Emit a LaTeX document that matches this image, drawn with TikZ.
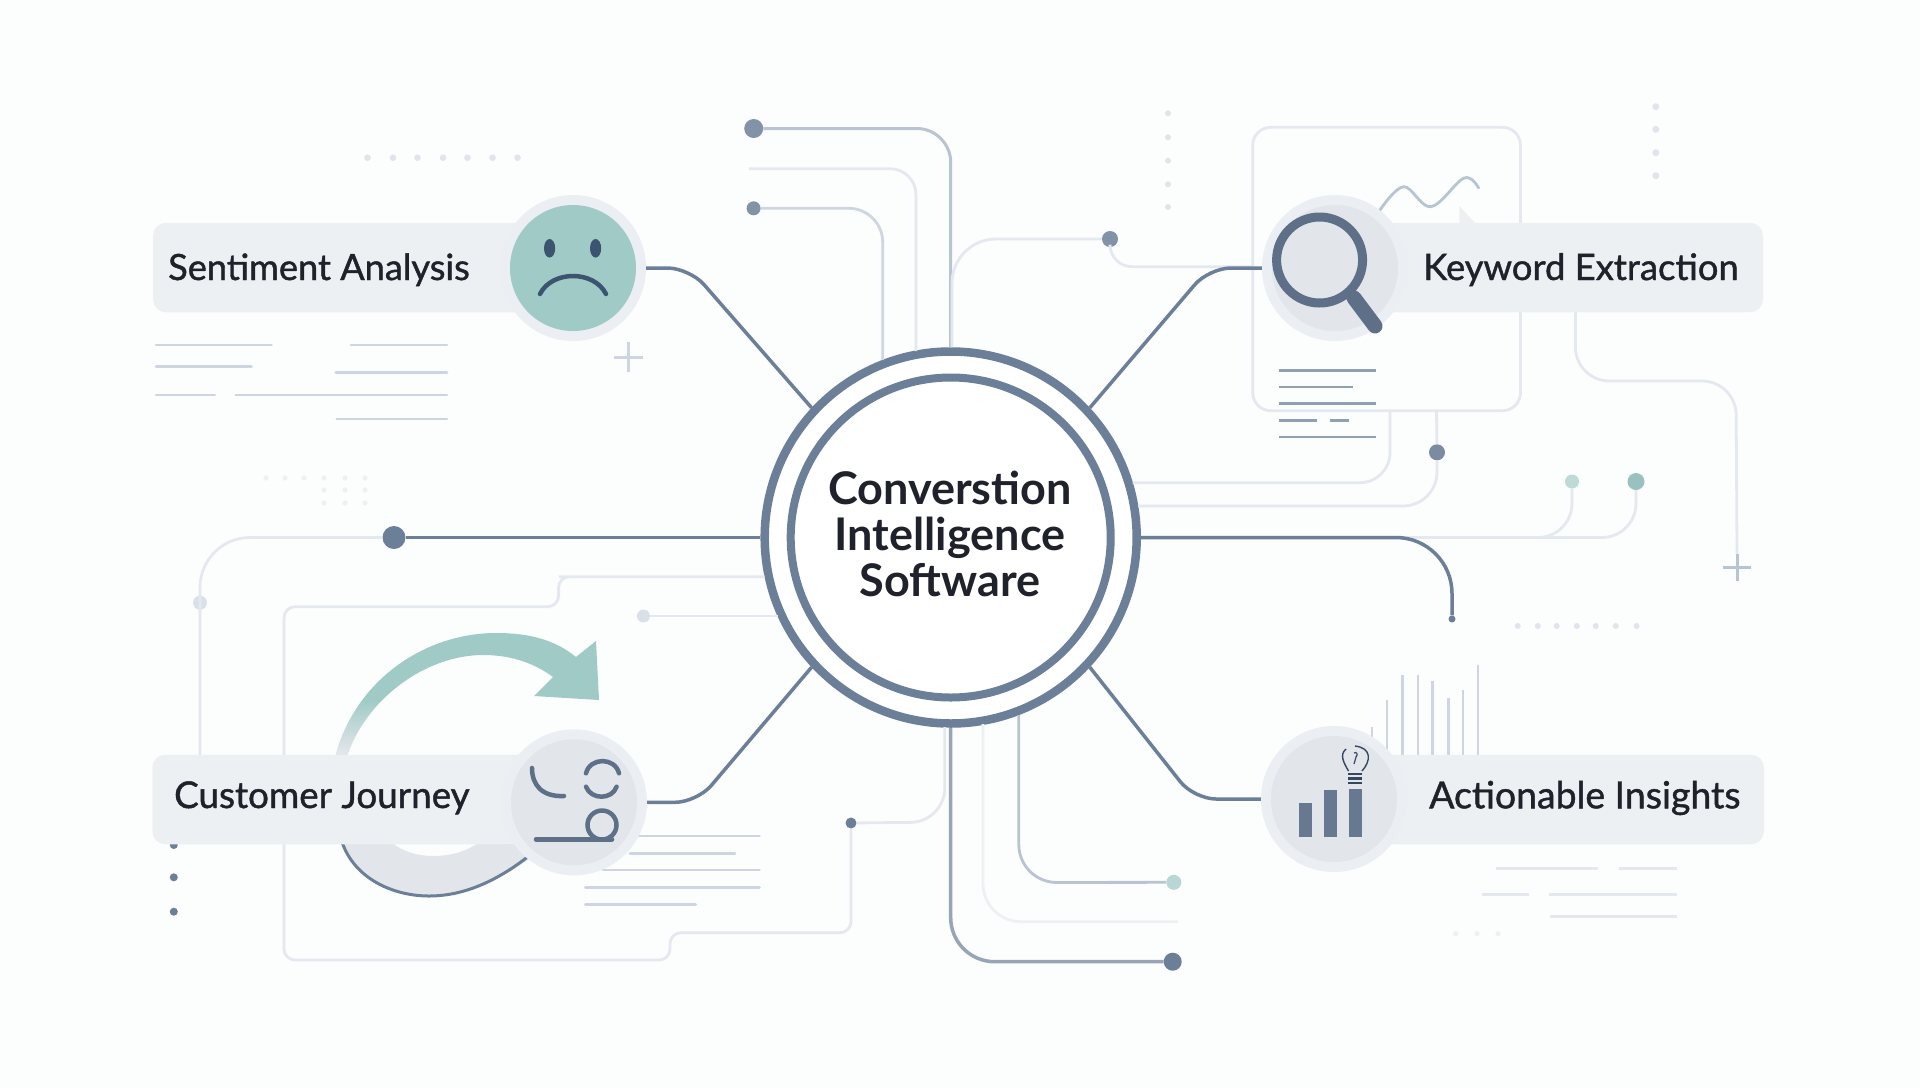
\documentclass[tikz,border=0pt]{standalone}
\usepackage{fontspec}
\setmainfont{Lato}
\newfontfamily\labfont{Lato}[FakeBold=1.2]
\usetikzlibrary{calc}
\definecolor{bgc}{HTML}{FCFDFD}
\definecolor{pillc}{HTML}{EDF0F3}
\definecolor{ringc}{HTML}{EBEEF2}
\definecolor{innerc}{HTML}{E2E5EA}
\definecolor{teal}{HTML}{A0CAC6}
\definecolor{slatec}{HTML}{6C7F98}
\definecolor{darkc}{HTML}{5D7088}
\definecolor{navyc}{HTML}{3D5470}
\definecolor{inkc}{HTML}{1F222B}
\definecolor{midc}{HTML}{B9C4D2}
\definecolor{lightc}{HTML}{E4E9EF}
\definecolor{palec}{HTML}{EEF1F4}
\definecolor{txtc}{HTML}{CDD6E0}
\definecolor{dotc}{HTML}{E0E5EC}
\pgfdeclareverticalshading{arcfade}{100bp}{color(0bp)=(innerc); color(27bp)=(innerc); color(48bp)=(teal); color(100bp)=(teal)}
\tikzset{
  spoke/.style={draw=slatec,line width=3.5pt,rounded corners=22pt},
  wire/.style={draw=lightc,line width=2.8pt,rounded corners=#1},
  wire/.default=26pt,
  dotn/.style 2 args={circle,fill=#2,inner sep=0pt,minimum size=#1,draw=none},
  pill/.style={rectangle,rounded corners=13pt,fill=pillc,inner sep=0pt,minimum height=89.5pt},
  halo/.style={circle,fill=ringc,inner sep=0pt,minimum size=146pt},
  disc/.style={circle,fill=innerc,inner sep=0pt,minimum size=126pt},
  lab/.style={anchor=base west,inner sep=0pt,text=inkc,font=\labfont\fontsize{#1}{42}\selectfont},
  tline/.style={draw=txtc,line width=2.8pt,line cap=round},
  glyph/.style={draw=darkc,line width=4.5pt,line cap=round},
}
\begin{document}
\begin{tikzpicture}[x=1pt,y=-1pt]
\useasboundingbox (0,0) rectangle (1920,1088);
\fill[bgc] (0,0) rectangle (1920,1088);

% hub
\node[circle,draw=slatec,line width=8.5pt,fill=white,minimum size=372pt,inner sep=0pt] (hub) at (950.7,537.5) {};
\coordinate (hA) at (1132.7,482.7);
\coordinate (hB) at (1138,506);
\coordinate (hC) at (764.7,576.7);
\coordinate (hD) at (777.7,616);

% small decorative dots
\foreach \x in {367.5,393,417.5,443,467.5,492.5,517.5} \fill[dotc] (\x,157.7) circle[radius=3.3pt];
\foreach \y in {113.3,137.3,160.7,184.3,207} \fill[dotc] (1168,\y) circle[radius=3pt];
\foreach \y in {106.7,129.3,152.7,175.7} \fill[dotc] (1655.8,\y) circle[radius=3.5pt];
\foreach \x in {266,285,304,324,345,365} \fill[palec] (\x,478) circle[radius=2.6pt];
\foreach \x in {324,345,365} {\fill[palec] (\x,490) circle[radius=2.6pt]; \fill[palec] (\x,503) circle[radius=2.6pt];}
\foreach \x in {1517.7,1537.8,1556.7,1576.8,1595.7,1615.8,1636.5} \fill[dotc] (\x,626) circle[radius=3pt];
\foreach \x in {1455.7,1477,1498} \fill[palec] (\x,933.7) circle[radius=2.6pt];
\foreach \y in {845,877.3,911.7} \fill[slatec] (173.8,\y) circle[radius=4pt];

% text-like lines
\foreach \a/\b/\y in {156/271.5/345,351/447/345,156/251.4/366.7,335.8/447/372.3,156/214.8/395,235.8/447/395,336.7/447/419}
  \draw[tline] (\a,\y) -- (\b,\y);
\foreach \a/\b/\y in {639/759.5/836,630/735/853.3,603/759.5/870,585.4/759.5/887.3,585.4/695.6/904.7}
  \draw[tline] (\a,\y) -- (\b,\y);
\foreach \a/\b/\y in {1496/1598/868.3,1618.7/1677/868.3,1481.5/1529/894.3,1548.7/1677/894.3,1550.4/1677/916.3}
  \draw[draw=lightc,line width=2.8pt] (\a,\y) -- (\b,\y);

% plus marks
\draw[draw=txtc,line width=3pt] (614.4,357) -- (643.4,357) (628.7,342) -- (628.7,372);
\draw[draw=midc,line width=3pt] (1722.6,567.7) -- (1751,567.7) (1737,554) -- (1737,581);

% dots on the wires
\node[dotn={19pt}{slatec!85!white}] (d1) at (753.7,128.5) {};
\node[dotn={14pt}{slatec!85!white}] (d2) at (753.6,208.3) {};
\node[dotn={16pt}{slatec!85!white}] (d3) at (1110,239) {};
\node[dotn={16pt}{slatec!90!white}] (d4) at (1437,452.3) {};
\node[dotn={14pt}{teal!70!white}] (d5) at (1572,481.5) {};
\node[dotn={17pt}{teal!90!darkc}] (d6) at (1636,481.5) {};
\node[dotn={7pt}{slatec}] (d7) at (1452,619) {};
\node[dotn={23pt}{slatec}] (d8) at (394,537.5) {};
\node[dotn={14pt}{dotc!85!midc}] (d9) at (200,602.7) {};
\node[dotn={13pt}{dotc!85!midc}] (d10) at (643.4,616) {};
\node[dotn={11pt}{slatec}] (d11) at (851,823) {};
\node[dotn={18pt}{slatec}] (d12) at (1172.7,961.7) {};
\node[dotn={15pt}{teal!75!white}] (d13) at (1173.8,882.3) {};
\coordinate (e1) at (749,168.7);
\coordinate (e2) at (1178,921.7);
\coordinate (k1) at (1737,554);

% document card and wave
\draw[draw=lightc,line width=2.8pt,rounded corners=18pt] (1252.7,127.3) rectangle (1520.5,410.7);
\draw[draw=midc,line width=2.8pt,line cap=round] plot[smooth,tension=.6] coordinates {(1380,210) (1403.6,186.7) (1431,206.7) (1464,178) (1478.6,188)};
\fill[pillc] (1459.4,206) -- (1459.4,224) -- (1476,224) -- cycle;
\foreach \a/\b/\y in {1278.6/1376/370.7,1278.6/1352.7/387,1278.6/1376/403.7,1278.6/1317.4/420.3,1330/1348.7/420.3,1278.6/1376/437}
  \draw[draw=slatec!75!white,line width=2.8pt] (\a,\y) -- (\b,\y);

% bars above the actionable pill
\foreach \x/\t in {1371.9/727,1386.8/700,1402.3/675,1417.8/675,1432.7/681,1448.2/697.7,1463/690,1478/665}
  \draw[draw=txtc,line width=2.6pt] (\x,\t) -- (\x,757);

% light wires
\draw[draw=midc,line width=3pt,rounded corners=34pt] (d1) -- (950.7,128.5) -- (hub.90);
\draw[wire] (e1) -- (916,168.7) -- (916,351);
\draw[draw=midc!70!white,line width=2.8pt,rounded corners=34pt] (d2) -- (882.7,208.3) -- (882.7,360);
\draw[wire=44pt] (d3) -- (952,239) -- (952,347);
\draw[wire=22pt] (d3) -- (1110,266.7) -- (1252.7,266.7);
\draw[wire=34pt] (1575.4,312) -- (1575.4,381) -- (1736,381) -- (k1);
\draw[wire=30pt] (1390,410.7) -- (1390,482.7) -- (hA);
\draw[wire=34pt] (d4) -- (1437,506) -- (hB);
\draw[wire=34pt] (d5) -- (1572,537.5) -- (1393,537.5);
\draw[wire=34pt] (d6) -- (1636,537.5) -- (1393,537.5);
\draw[wire=2pt] (d4) -- (1436.5,411);
\draw[wire=50pt] (d8) -- (200,537.5) -- (200,757);
\draw[wire=11pt] (hC) -- (570,576.7) -- (558.6,576.7) -- (558.6,606.7) -- (284,606.7) -- (284,960) -- (670,960) -- (670,932.7) -- (851,932.7) -- (d11);
\draw[wire=2pt] (d10) -- (hD);
\draw[wire=34pt] (d11) -- (944.8,822) -- (944.8,727);
\draw[draw=palec,line width=2.8pt,rounded corners=38pt] (e2) -- (983,921.7) -- (983,724);
\draw[draw=midc,line width=2.8pt,rounded corners=38pt] (d13) -- (1018.8,882.5) -- (1018.8,715);
\draw[draw=slatec!70!white,line width=3.5pt,rounded corners=44pt] (d12) -- (950.7,961.7) -- (hub.south);
\draw[spoke,rounded corners=56pt] (hub.east) -- (1452,537.5) -- (d7);
\draw[spoke,rounded corners=2pt] (d8) -- (hub.west);

% journey arrow
\shade[shading=arcfade] (335,757) .. controls (355,680) and (425,633) .. (496,633) .. controls (530,633) and (555,640) .. (576,657) -- (596,641) -- (599,700) -- (534,696) -- (553,677) .. controls (530,660) and (505,655) .. (483,655) .. controls (425,655) and (365,700) .. (347,757) -- cycle;
\fill[innerc] (342,842) .. controls (355,880) and (395,896) .. (429,896) .. controls (465,896) and (500,880) .. (535,855) -- (535,842) -- (480,842) .. controls (465,852) and (450,856) .. (434,856) .. controls (418,856) and (403,852) .. (391,842) -- cycle;
\draw[draw=slatec,line width=3pt] (342,842) .. controls (355,880) and (395,896) .. (429,896) .. controls (465,896) and (500,880) .. (535,851);

% pills
\node[pill,minimum width=420pt] (sentp) at (363,267.5) {};
\node[pill,minimum width=440pt] (keyp) at (1543,267.5) {};
\node[pill,minimum width=440pt] (custp) at (372.3,799.5) {};
\node[pill,minimum width=440pt] (actp) at (1544,799.5) {};

% discs
\node[halo] (sent) at (573,268) {};
\node[circle,fill=teal,inner sep=0pt,minimum size=126pt] (sentin) at (573,268) {};
\node[halo] (key) at (1335,268) {};
\node[disc] (keyin) at (1335,268) {};
\node[halo] (cust) at (574,802.3) {};
\node[disc] (custin) at (574,802.3) {};
\node[halo] (act) at (1334,799) {};
\node[disc] (actin) at (1334,799) {};

% spokes
\draw[spoke] (sent.east) -- (689.5,268) -- (hub.137.3);
\draw[spoke] (key.west) -- (1209,268) -- (hub.43);
\draw[spoke] (cust.east) -- (697,802.3) -- (hub.-137);
\draw[spoke] (act.west) -- (1194,799) -- (hub.-43);

% inner ring
\node[circle,draw=slatec,line width=8pt,minimum size=320pt,inner sep=0pt] (hubin) at (950.7,537.5) {};
\node[inner sep=0pt,align=center,text=inkc,font=\fontsize{45}{45.6}\selectfont\bfseries] (hubt) at (950,534) {Converstion\\Intelligence\\Software};

% sentiment face
\fill[navyc] (549.6,248.3) ellipse[x radius=5.6pt,y radius=9.3pt];
\fill[navyc] (595.6,248.3) ellipse[x radius=5.6pt,y radius=9.3pt];
\draw[draw=navyc,line width=4.5pt,line cap=round] (540,294) .. controls (552,270) and (594,270) .. (606,294);

% magnifier
\draw[draw=darkc,line width=15pt,line cap=round] (1354,298) -- (1375,326);
\draw[draw=darkc,line width=9pt,fill=innerc] (1319.6,260) circle[radius=43pt];

% journey icon
\draw[glyph] (532,768) .. controls (532,785) and (542,797) .. (564,796);
\draw[glyph] (586,773.3) .. controls (590,757) and (615,757) .. (619,773.3);
\draw[glyph] (586,786.7) .. controls (591,800) and (612,800) .. (616.6,786.7);
\draw[glyph] (536,839.3) -- (612,839.3);
\draw[glyph] (602,825) circle[radius=14.5pt];

% insights icon
\fill[slatec!95!black] (1299,802.7) rectangle (1312,836.7);
\fill[slatec!95!black] (1323.6,790) rectangle (1337,836.7);
\fill[slatec!95!black] (1349,789.3) rectangle (1362,836.7);
\draw[draw=navyc!85!black,line width=1.4pt] (1348.5,771) .. controls (1344,763) and (1339,755) .. (1346,749);
\draw[draw=navyc!85!black,line width=1.4pt] (1355,746) .. controls (1372,748) and (1371,761) .. (1362,771);
\draw[draw=navyc!85!black,line width=1.2pt] (1354,753) .. controls (1357,751) and (1358,755) .. (1356,757) -- (1354,764);
\foreach \y in {774,778.5,783} \draw[draw=navyc!85!black,line width=2.4pt] (1348,\y) -- (1362,\y);

% labels
\node[lab=36.2] (l1) at (168,280) {Sentiment Analysis};
\node[lab=36.4] (l2) at (1423,280) {Keyword Extraction};
\node[lab=36.8] (l3) at (174,808) {Customer Journey};
\node[lab=37.4] (l4) at (1429,808.3) {Actionable Insights};
\end{tikzpicture}
\end{document}
